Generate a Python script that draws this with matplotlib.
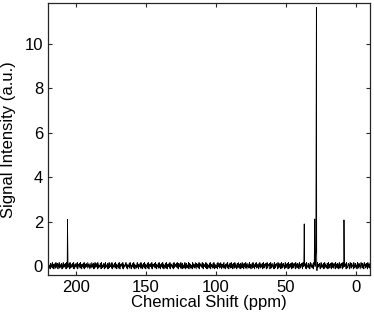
import numpy as np
import matplotlib
matplotlib.use("Agg")
import matplotlib.pyplot as plt

plt.rcParams['font.family'] = ['Liberation Sans', 'DejaVu Sans']

# Baseline noise, hand-typed digit levels (0-9) read as relative noise amplitude
noise_digits = (
    "47362518463927516482937581649273548162953746819257364819273645829163748529136748"
    "29361745829163748529637418526937481629537481926354871926354817293645817293645829"
    "17364582937164582931746582917364589273164582973164582937164528937164582937165482"
    "93716458293167458291376458293716458293716548293716458293167458291376452819374658"
    "39271846529371846253917482653918472635198472639518473629185746392817465392817456"
    "28391746528391746253819476283951746289351746829351748629357148629375148269375184"
    "62937518462937158462937516482937516849273561849273658149273568149237568149273586"
    "41927358641927358614927385614927358619427358619427385619472385619472358619743582"
    "61974358261974385261973458261937458216937452816937452861937425861937428561937428"
    "56193742856193724856197324856197328456197328465197328461597328461957328461953728"
)
noise_scale = 0.036

# Peaks (ppm, intensity)
peak_ppm = [206.0, 36.9, 29.4, 28.9, 28.6, 28.2, 27.8, 8.5]
peak_int = [2.10, 1.90, 2.12, 0.35, 0.65, 11.65, -0.20, 2.08]

xlim = (220, -10)
ylim = (-0.4, 11.83)
xticks = [200, 150, 100, 50, 0]
yticks = [0, 2, 4, 6, 8, 10]

noise_vals = np.array([(int(c) - 4.5) * noise_scale for c in noise_digits])
noise_x = np.linspace(xlim[0], xlim[1], len(noise_vals))

# drop baseline points too close to peaks, then merge
mask = np.ones(len(noise_x), bool)
for p in peak_ppm:
    mask &= np.abs(noise_x - p) > 0.12
x = np.concatenate([noise_x[mask], peak_ppm])
y = np.concatenate([noise_vals[mask], peak_int])
order = np.argsort(-x)
x, y = x[order], y[order]

fig = plt.figure(figsize=(3.74, 3.15), dpi=100)
ax = fig.add_axes([0.128, 0.127, 0.861, 0.862])
ax.plot(x, y, color='black', lw=0.6)
ax.set_xlim(*xlim)
ax.set_ylim(*ylim)
ax.set_xticks(xticks)
ax.set_yticks(yticks)
ax.tick_params(direction='in', top=True, right=True, length=3, labelsize=12, width=0.8,
               colors='#262626', labelcolor='black')
for s in ax.spines.values():
    s.set_linewidth(0.9)
    s.set_color('#262626')
ax.set_xlabel('Chemical Shift (ppm)', fontsize=12, labelpad=0)
ax.set_ylabel('Signal Intensity (a.u.)', fontsize=12, labelpad=6)
fig.savefig('out.png', dpi=100)
